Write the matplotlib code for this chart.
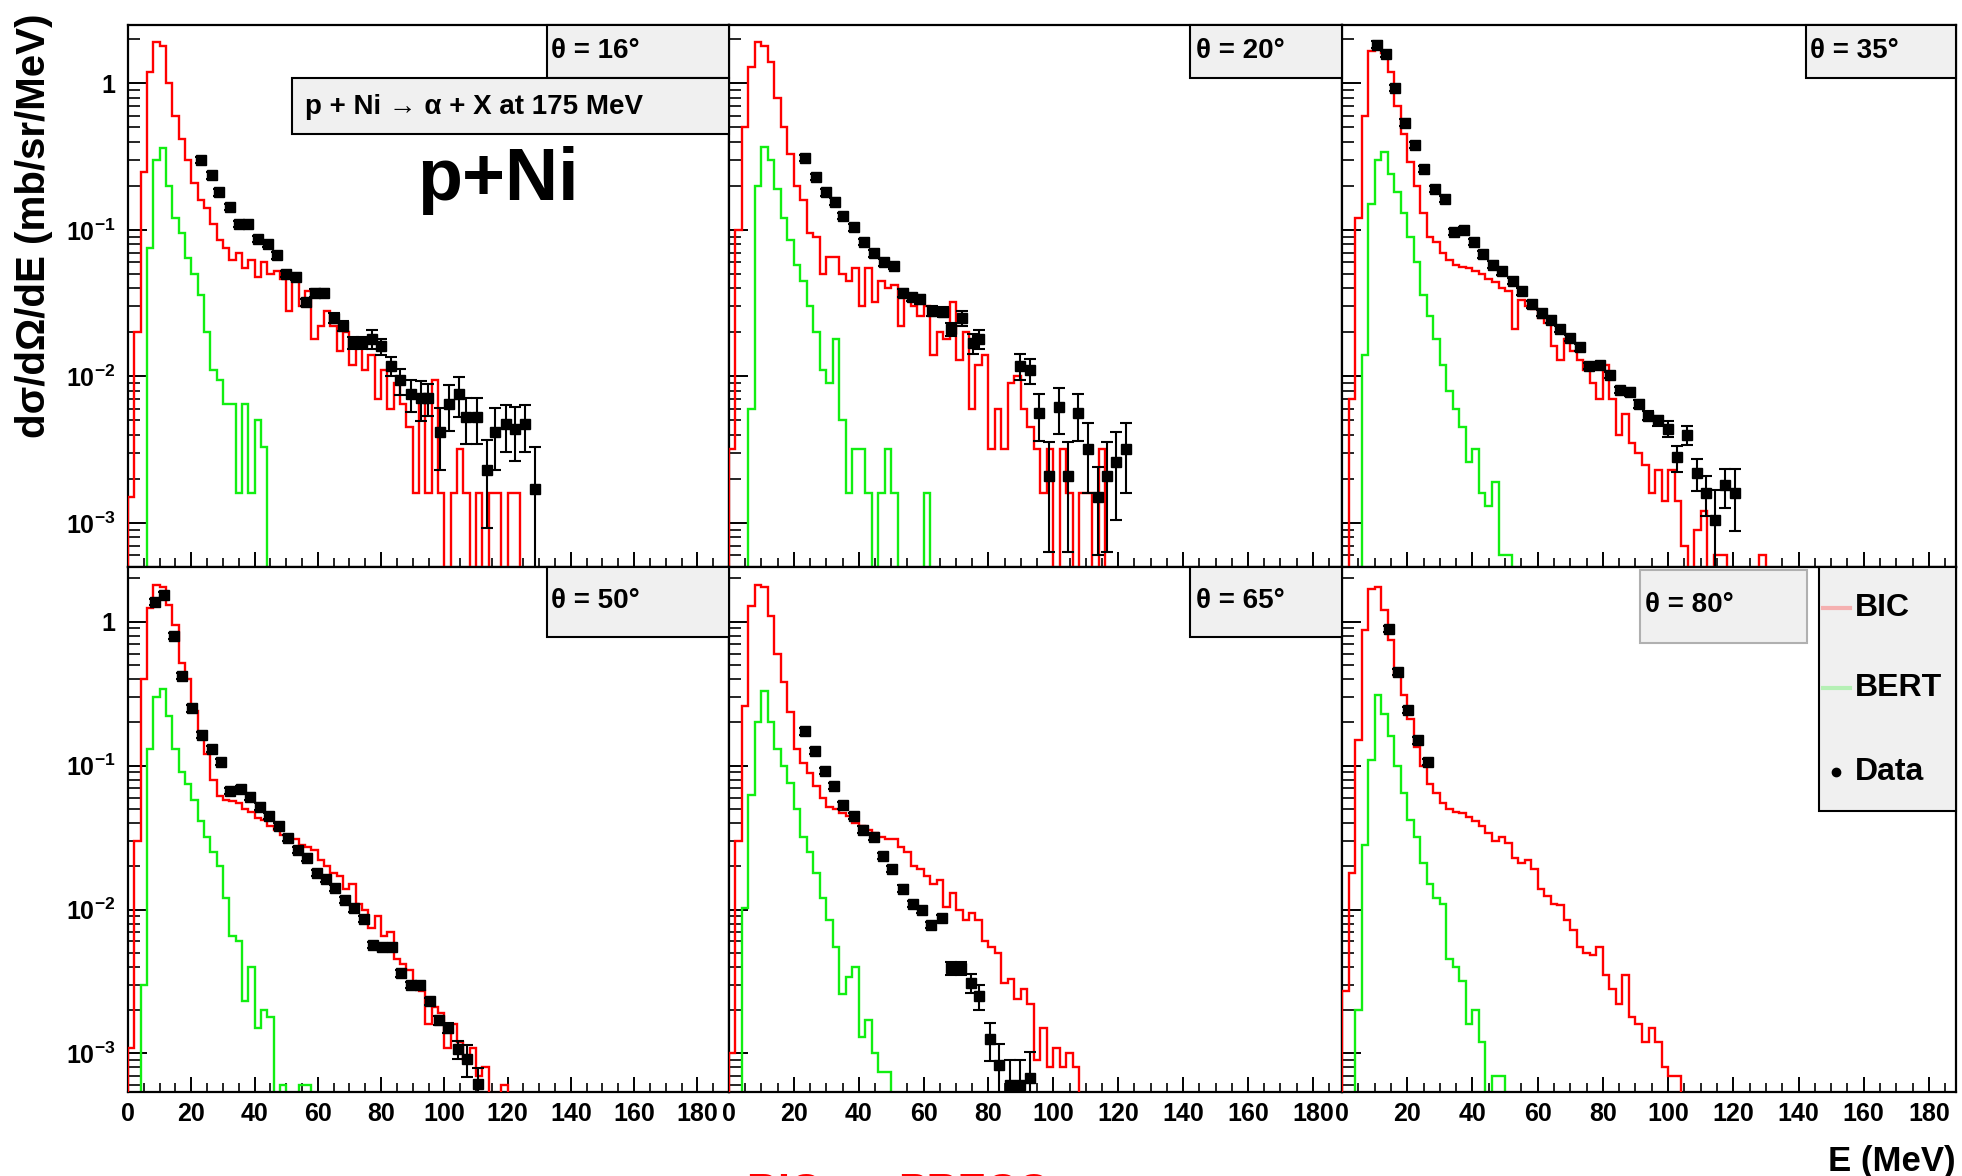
import numpy as np
import matplotlib
matplotlib.use("Agg")
import matplotlib.pyplot as plt
from matplotlib.patches import Rectangle
from matplotlib.lines import Line2D
from matplotlib.ticker import MultipleLocator, LogLocator, NullFormatter, FuncFormatter

plt.rcParams['font.family'] = ['Liberation Sans', 'DejaVu Sans']
plt.rcParams['font.weight'] = 'bold'
plt.rcParams['mathtext.fontset'] = 'custom'
plt.rcParams['mathtext.rm'] = 'Liberation Sans:bold'
plt.rcParams['mathtext.it'] = 'Liberation Sans:bold'
plt.rcParams['mathtext.bf'] = 'Liberation Sans:bold'

# ---------------- data ----------------
angles = [16, 20, 35, 50, 65, 80]
bin_width_mev = 2.0

bic_16 = [0.0015, 0.02, 0.25, 1.2, 1.9, 1.8, 1.0, 0.6, 0.42, 0.3,
          0.21, 0.16, 0.14, 0.11, 0.085, 0.075, 0.062, 0.07, 0.055, 0.062,
          0.048, 0.06, 0.05, 0.052, 0.046, 0.028, 0.045, 0.03, 0.038, 0.018,
          0.022, 0.028, 0.022, 0.015, 0.02, 0.012, 0.016, 0.011, 0.014, 0.007,
          0.011, 0.006, 0.009, 0.0065, 0.0045, 0.0016, 0.0068, 0.0016, 0.0095, 0.0016,
          0, 0.0016, 0.0032, 0.0016, 0, 0.0016, 0, 0.0016, 0.0016, 0,
          0.0016, 0.0016]
bert_16 = [0, 0, 0, 0.075, 0.3, 0.36, 0.2, 0.12, 0.095, 0.064,
           0.05, 0.036, 0.02, 0.011, 0.0095, 0.0065, 0.0065, 0.0016, 0.0065, 0.0016,
           0.005, 0.0033]

bic_20 = [0.0032, 0.1, 0.5, 1.3, 1.9, 1.8, 1.4, 0.8, 0.5, 0.33,
          0.2, 0.16, 0.095, 0.09, 0.05, 0.065, 0.065, 0.05, 0.045, 0.055,
          0.03, 0.055, 0.032, 0.045, 0.04, 0.042, 0.022, 0.035, 0.03, 0.026,
          0.03, 0.014, 0.02, 0.018, 0.032, 0.013, 0.02, 0.006, 0.012, 0.014,
          0.0032, 0.006, 0.0032, 0.009, 0.01, 0.006, 0.0045, 0.0032, 0.0016, 0.0032,
          0, 0.0032, 0.0016, 0, 0.0016, 0.0016, 0, 0.0032]
bert_20 = [0, 0, 0, 0.006, 0.2, 0.37, 0.3, 0.19, 0.12, 0.085,
           0.058, 0.045, 0.03, 0.02, 0.011, 0.009, 0.018, 0.005, 0.0016, 0.0032,
           0.0032, 0.0016, 0, 0.0016, 0.0032, 0.0016, 0, 0, 0, 0,
           0.0016]

bic_35 = [0, 0.007, 0.12, 0.6, 1.66, 1.84, 1.6, 1.2, 0.7, 0.45,
          0.29, 0.2, 0.13, 0.09, 0.083, 0.07, 0.062, 0.058, 0.056, 0.055,
          0.052, 0.05, 0.046, 0.044, 0.04, 0.038, 0.021, 0.033, 0.03, 0.029,
          0.025, 0.023, 0.016, 0.013, 0.018, 0.015, 0.013, 0.011, 0.009, 0.007,
          0.012, 0.007, 0.004, 0.0055, 0.0035, 0.003, 0.0025, 0.0016, 0.0023, 0.0014,
          0.0023, 0.0014, 0.0007, 0, 0.0009, 0.0012, 0, 0.0006, 0.0006, 0,
          0, 0, 0, 0, 0.0006]
bert_35 = [0, 0, 0, 0.014, 0.15, 0.3, 0.34, 0.24, 0.18, 0.13,
           0.09, 0.06, 0.036, 0.026, 0.018, 0.012, 0.008, 0.006, 0.0045, 0.0026,
           0.0032, 0.0016, 0.0013, 0.0019, 0.0006, 0.0006]

bic_50 = [0.0011, 0.03, 0.4, 1.24, 1.8, 1.75, 1.3, 0.95, 0.52, 0.4,
          0.24, 0.17, 0.12, 0.08, 0.062, 0.058, 0.057, 0.055, 0.05, 0.048,
          0.043, 0.042, 0.038, 0.036, 0.033, 0.03, 0.031, 0.028, 0.027, 0.026,
          0.022, 0.02, 0.018, 0.017, 0.014, 0.015, 0.011, 0.01, 0.0075, 0.009,
          0.0065, 0.007, 0.0045, 0.0042, 0.0038, 0.003, 0.0027, 0.0016, 0.0021, 0.0019,
          0.0011, 0.0016, 0.0012, 0.0009, 0.0011, 0.0007, 0.0008, 0, 0, 0.0006]
bert_50 = [0, 0, 0.003, 0.13, 0.3, 0.34, 0.22, 0.13, 0.09, 0.074,
           0.058, 0.041, 0.032, 0.025, 0.02, 0.012, 0.0065, 0.006, 0.0023, 0.004,
           0.0015, 0.002, 0.0018, 0, 0.0006, 0, 0, 0.0006, 0.0006]

bic_65 = [0.001, 0.03, 0.26, 1.28, 1.8, 1.75, 1.1, 0.6, 0.38, 0.236,
          0.13, 0.105, 0.089, 0.072, 0.06, 0.052, 0.05, 0.047, 0.045, 0.04,
          0.038, 0.036, 0.034, 0.032, 0.031, 0.031, 0.027, 0.025, 0.02, 0.019,
          0.017, 0.015, 0.016, 0.0105, 0.013, 0.01, 0.0085, 0.0095, 0.0085, 0.006,
          0.0055, 0.005, 0.0031, 0.0033, 0.0024, 0.0028, 0.0022, 0.0009, 0.0015, 0.0008,
          0.0011, 0.0008, 0.001, 0.0008]
bert_65 = [0, 0, 0.0103, 0.063, 0.2, 0.33, 0.2, 0.13, 0.1, 0.076,
           0.05, 0.032, 0.025, 0.018, 0.012, 0.0085, 0.0055, 0.0026, 0.0034, 0.004,
           0.0013, 0.0017, 0.001, 0.00074, 0.00074]

bic_80 = [0.0027, 0.018, 0.15, 0.88, 1.7, 1.75, 1.2, 0.75, 0.42, 0.31,
          0.21, 0.134, 0.1, 0.075, 0.065, 0.055, 0.05, 0.048, 0.047, 0.044,
          0.041, 0.038, 0.034, 0.03, 0.032, 0.029, 0.023, 0.021, 0.022, 0.019,
          0.014, 0.0125, 0.011, 0.0107, 0.0085, 0.0072, 0.0055, 0.005, 0.0048, 0.0055,
          0.0035, 0.0028, 0.0022, 0.0035, 0.0018, 0.0016, 0.0012, 0.0015, 0.0012, 0.0008,
          0.0007, 0.0007]
bert_80 = [0, 0, 0.002, 0.028, 0.11, 0.31, 0.23, 0.16, 0.1, 0.065,
           0.042, 0.032, 0.021, 0.015, 0.012, 0.011, 0.0045, 0.004, 0.0032, 0.0016,
           0.002, 0.0012, 0, 0.0007, 0.0007]

data_e_16 = [23.1, 26.4, 28.8, 32.1, 35, 38, 41, 44.3, 47, 50, 53, 56.4, 59, 62, 65, 68, 71, 74,
             77, 80, 83, 86, 89.5, 92.5, 94.8, 98.5, 101.5, 104.5, 107, 110.4, 113.4, 116,
             119.4, 122.4, 125.4, 128.8]
data_v_16 = [0.30, 0.235, 0.18, 0.143, 0.11, 0.11, 0.087, 0.08, 0.067, 0.05, 0.048, 0.032,
             0.037, 0.037, 0.025, 0.022, 0.017, 0.017, 0.018, 0.016, 0.0118, 0.0094, 0.0076,
             0.0071, 0.0071, 0.0042, 0.0065, 0.0076, 0.0053, 0.0053, 0.0023, 0.0042, 0.0047,
             0.0044, 0.0047, 0.0017]
data_rel_16 = [0.05] * 12 + [0.06, 0.06, 0.08, 0.08, 0.1, 0.1, 0.15, 0.12, 0.15, 0.2, 0.25,
                             0.3, 0.25, 0.45, 0.35, 0.3, 0.35, 0.35, 0.6, 0.45, 0.35, 0.4,
                             0.35, 0.95]

data_e_20 = [23.5, 26.7, 29.8, 32.6, 35.3, 38.6, 41.6, 44.8, 47.7, 50.8, 53.7, 56.5, 59, 62.5,
             66, 68.4, 71.8, 75.1, 77.2, 89.6, 92.7, 95.5, 98.6, 101.8, 104.5, 107.5, 110.6,
             113.7, 116.6, 119.4, 122.5]
data_v_20 = [0.31, 0.23, 0.18, 0.156, 0.124, 0.104, 0.083, 0.069, 0.06, 0.057, 0.037, 0.0346,
             0.0336, 0.028, 0.0275, 0.021, 0.025, 0.0168, 0.018, 0.0118, 0.011, 0.0056,
             0.0021, 0.0062, 0.0021, 0.0056, 0.0032, 0.0015, 0.0021, 0.0026, 0.0032]
data_rel_20 = [0.05] * 10 + [0.06, 0.06, 0.07, 0.08, 0.08, 0.1, 0.12, 0.15, 0.15, 0.2, 0.2,
                             0.35, 0.7, 0.35, 0.7, 0.35, 0.5, 0.6, 0.7, 0.6, 0.5]

data_e_35 = [10.7, 13.5, 16.3, 19.2, 22.3, 25.3, 28.5, 31.5, 34.2, 37.5, 40.5, 43.3, 46.4,
             49.2, 52.4, 55.2, 58.2, 61.2, 64, 67, 70, 73, 75.9, 79.2, 82.2, 85.3, 88.3, 91,
             93.8, 96.8, 99.9, 102.7, 105.7, 108.8, 111.7, 114.5, 117.5, 120.6]
data_v_35 = [1.84, 1.59, 0.93, 0.54, 0.38, 0.26, 0.19, 0.163, 0.097, 0.1, 0.083, 0.068,
             0.058, 0.052, 0.045, 0.038, 0.031, 0.027, 0.0244, 0.0211, 0.0183, 0.0158,
             0.0118, 0.012, 0.0102, 0.0081, 0.0078, 0.0065, 0.0054, 0.005, 0.0044, 0.0028,
             0.004, 0.0022, 0.0016, 0.00104, 0.0018, 0.0016]
data_rel_35 = [0.05] * 26 + [0.06, 0.06, 0.07, 0.08, 0.12, 0.2, 0.15, 0.25, 0.3, 0.6, 0.3,
                             0.45]

data_e_50 = [8.5, 11.5, 14.5, 17.2, 20.1, 23.4, 26.7, 29.4, 32.4, 35.7, 38.7, 41.6, 44.6,
             47.6, 50.6, 53.6, 56.6, 59.6, 62.5, 65.5, 68.5, 71.5, 74.6, 77.5, 80.4, 83.4,
             86.4, 89.6, 92.4, 95.4, 98.4, 101.3, 104.3, 107.3, 110.7]
data_v_50 = [1.37, 1.53, 0.8, 0.42, 0.25, 0.164, 0.13, 0.106, 0.067, 0.069, 0.061, 0.052,
             0.045, 0.038, 0.0314, 0.026, 0.023, 0.018, 0.0164, 0.0142, 0.0116, 0.0102,
             0.0086, 0.0057, 0.0055, 0.0055, 0.0036, 0.003, 0.003, 0.0023, 0.0017, 0.0015,
             0.00107, 0.00091, 0.00061]
data_rel_50 = [0.05] * 30 + [0.07, 0.08, 0.15, 0.25, 0.3]

data_e_65 = [23.4, 26.5, 29.7, 32.5, 35.2, 38.5, 41.3, 44.7, 47.5, 50.4, 53.5, 56.6, 59.5,
             62.3, 65.8, 68.3, 71.4, 74.6, 77.1, 80.5, 83.4, 86.5, 89.7, 92.8]
data_v_65 = [0.173, 0.126, 0.092, 0.072, 0.053, 0.045, 0.036, 0.032, 0.0235, 0.0192, 0.014,
             0.0109, 0.01, 0.0078, 0.0088, 0.0039, 0.0039, 0.0031, 0.0025, 0.00126, 0.00083,
             0.0006, 0.0006, 0.00068]
data_rel_65 = [0.05] * 15 + [0.1, 0.1, 0.15, 0.2, 0.3, 0.4, 0.5, 0.5, 0.5]

data_e_80 = [14.4, 17.3, 20.2, 23.2, 26.3]
data_v_80 = [0.89, 0.45, 0.244, 0.15, 0.106]
data_rel_80 = [0.05, 0.05, 0.05, 0.05, 0.05]

bic_all = [bic_16, bic_20, bic_35, bic_50, bic_65, bic_80]
bert_all = [bert_16, bert_20, bert_35, bert_50, bert_65, bert_80]
data_e_all = [data_e_16, data_e_20, data_e_35, data_e_50, data_e_65, data_e_80]
data_v_all = [data_v_16, data_v_20, data_v_35, data_v_50, data_v_65, data_v_80]
data_rel_all = [data_rel_16, data_rel_20, data_rel_35, data_rel_50, data_rel_65, data_rel_80]

# ---------------- layout ----------------
W, H = 1962, 1176
fig = plt.figure(figsize=(W / 100, H / 100), dpi=100)
fig.patch.set_facecolor('white')


def fx(px):
    return px / W


def fy(py):
    return 1 - py / H


col_edges = [128, 729, 1342, 1956]
row_edges = [25, 567, 1092]
xmax_col = [190.0, 189.0, 188.3]
ylims_row = [(5.0e-4, 2.5), (5.4e-4, 2.4)]

RED = '#ff0000'
GREEN = '#11ee11'
FLOOR = 1e-9


def yfmt(v, pos):
    e = int(round(np.log10(v)))
    if e == 0:
        return '1'
    return r'$\mathbf{10^{%d}}$' % e


for i in range(6):
    r, c = divmod(i, 3)
    x0, x1 = col_edges[c], col_edges[c + 1]
    y0, y1 = row_edges[r], row_edges[r + 1]
    ax = fig.add_axes([fx(x0), fy(y1), (x1 - x0) / W, (y1 - y0) / H])
    ax.set_yscale('log')
    ax.set_xlim(0, xmax_col[c])
    ax.set_ylim(*ylims_row[r])

    bic = np.array(bic_all[i], dtype=float)
    bert = np.array(bert_all[i], dtype=float)
    e_bic = np.arange(len(bic) + 1) * bin_width_mev
    e_bert = np.arange(len(bert) + 1) * bin_width_mev
    ax.stairs(np.where(bert > 0, bert, FLOOR), e_bert, baseline=FLOOR,
              color=GREEN, lw=1.7, zorder=2)
    ax.stairs(np.where(bic > 0, bic, FLOOR), e_bic, baseline=FLOOR,
              color=RED, lw=1.7, zorder=3)

    de = np.array(data_e_all[i])
    dv = np.array(data_v_all[i])
    dr = np.array(data_rel_all[i])
    ax.errorbar(de, dv, yerr=dv * dr, fmt='s', ms=6.5, color='black', mfc='black',
                mec='black', ecolor='black', elinewidth=1.5, capsize=4.5, capthick=1.5,
                zorder=4)

    for sp in ax.spines.values():
        sp.set_linewidth(1.6)
        sp.set_color('black')

    ax.xaxis.set_major_locator(MultipleLocator(20))
    ax.xaxis.set_minor_locator(MultipleLocator(5))
    ax.yaxis.set_major_locator(LogLocator(base=10, numticks=12))
    ax.yaxis.set_minor_locator(LogLocator(base=10, subs=np.arange(2, 10), numticks=12))
    ax.yaxis.set_minor_formatter(NullFormatter())
    ax.tick_params(axis='x', which='major', direction='in', length=10.5, width=1.4,
                   top=False, bottom=True, labelsize=18, pad=7)
    ax.tick_params(axis='x', which='minor', direction='in', length=6.5, width=1.2,
                   top=False, bottom=True)
    ax.tick_params(axis='y', which='major', direction='in', length=14, width=1.4,
                   left=True, right=False, labelsize=18, pad=9)
    ax.tick_params(axis='y', which='minor', direction='in', length=8.5, width=1.2,
                   left=True, right=False)
    if r == 1:
        ax.xaxis.set_major_formatter(FuncFormatter(lambda v, p: '%d' % v))
    else:
        ax.set_xticklabels([])
    if c == 0:
        ax.yaxis.set_major_formatter(FuncFormatter(yfmt))
    else:
        ax.set_yticklabels([])
    for lab in ax.get_xticklabels() + ax.get_yticklabels():
        lab.set_fontweight('bold')


def box(x0, y0, x1, y1, ec='black', lw=1.5):
    fig.add_artist(Rectangle((fx(x0), fy(y1)), (x1 - x0) / W, (y1 - y0) / H,
                             transform=fig.transFigure, facecolor='#f0f0f0',
                             edgecolor=ec, linewidth=lw, zorder=5))


# angle boxes
theta_boxes = [(547, 25, 729, 78), (1190, 25, 1342, 78), (1806, 25, 1956, 78),
               (547, 567, 729, 637), (1190, 567, 1342, 637), (1640, 570, 1807, 643)]
theta_text = [(551, 51), (1196, 51), (1810, 51), (551, 601), (1196, 601), (1645, 605)]
for i, ang in enumerate(angles):
    bx = theta_boxes[i]
    box(*bx, ec=('#b0b0b0' if i == 5 else 'black'))
    tx, ty = theta_text[i]
    fig.text(fx(tx), fy(ty), '\u03b8 = %d\u00b0' % ang, fontsize=20, fontweight='bold',
             ha='left', va='center', zorder=6)

# reaction label box
box(292, 78, 729, 134)
fig.text(fx(305), fy(107), 'p + Ni \u2192 \u03b1 + X at 175 MeV', fontsize=20,
         fontweight='bold', ha='left', va='center', zorder=6)

fig.text(fx(417), fy(200), 'p+Ni', fontsize=53, fontweight='bold', ha='left',
         va='baseline', zorder=6)

# legend
box(1819, 567, 1956, 811)
fig.add_artist(Line2D([fx(1823), fx(1850)], [fy(608), fy(608)], color='#f5b0b0', lw=3,
                      transform=fig.transFigure, zorder=7))
fig.add_artist(Line2D([fx(1823), fx(1850)], [fy(688), fy(688)], color='#b5f0b5', lw=3,
                      transform=fig.transFigure, zorder=7))
fig.add_artist(Line2D([fx(1836)], [fy(772)], marker='o', ms=6, color='black', lw=0,
                      transform=fig.transFigure, zorder=7))
for label, yy in [('BIC', 608), ('BERT', 688), ('Data', 772)]:
    fig.text(fx(1855), fy(yy), label, fontsize=23, fontweight='bold', ha='left',
             va='center', zorder=7)

# axis titles
fig.text(fx(34), fy(13), 'd\u03c3/d\u03a9/dE (mb/sr/MeV)', rotation=90, fontsize=29,
         fontweight='bold', ha='center', va='top')
fig.text(fx(1956), fy(1171), 'E (MeV)', fontsize=25, fontweight='bold', ha='right',
         va='baseline')

# cut-off red caption at the bottom
fig.text(fx(747), fy(1203), 'BIC \u2013', fontsize=31, fontweight='bold', color='red',
         ha='left', va='baseline')
fig.text(fx(898), fy(1203), 'PRECO', fontsize=31, fontweight='bold', color='red',
         ha='left', va='baseline')

fig.savefig('out.png', dpi=100)
